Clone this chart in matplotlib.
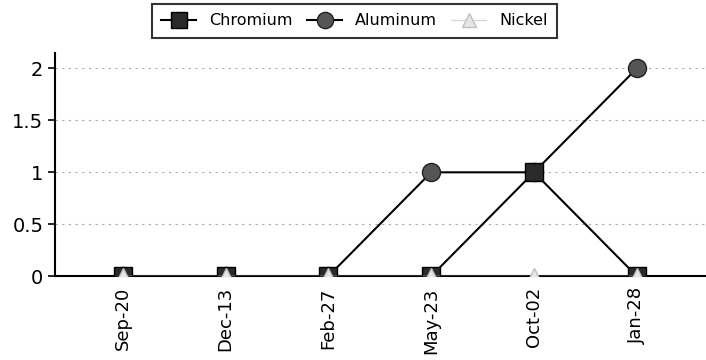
import matplotlib.pyplot as plt
import numpy as np

dates = ["Sep-20", "Dec-13", "Feb-27", "May-23", "Oct-02", "Jan-28"]
chromium = [0, 0, 0, 0, 1, 0]
aluminum = [0, 0, 0, 1, 1, 2]
nickel = [0, 0, 0, 0, 0, 0]

fig = plt.figure(figsize=(7.06, 3.6), dpi=100)
ax = fig.add_axes([0.078, 0.233, 0.92, 0.62])

x = np.arange(len(dates))
l1, = ax.plot(x, chromium, color="black", lw=1.5, marker="s", ms=13,
              mfc="#2a2a2a", mec="black", label="Chromium", zorder=4)
l2, = ax.plot(x, aluminum, color="black", lw=1.5, marker="o", ms=13,
              mfc="#555555", mec="#222222", label="Aluminum", zorder=3)
l3, = ax.plot(x, nickel, color="#d8d8d8", lw=1.0, marker="^", ms=11,
              mfc="#e6e6e6", mec="#c0c0c0", label="Nickel", zorder=5)

ax.set_xlim(-0.66, 5.66)
ax.set_ylim(0, 2.15)
ax.set_yticks([0, 0.5, 1, 1.5, 2])
ax.set_yticklabels(["0", "0.5", "1", "1.5", "2"], fontsize=14)
ax.set_xticks(x)
ax.set_xticklabels(dates, rotation=90, fontsize=13)
ax.grid(axis="y", color="#aaaaaa", linestyle=(0, (2, 4)), lw=0.8)
ax.set_axisbelow(True)
for s in ["top", "right"]:
    ax.spines[s].set_visible(False)
ax.spines["left"].set_linewidth(1.5)
ax.spines["bottom"].set_linewidth(1.5)
ax.tick_params(axis="x", length=0, pad=8)
ax.tick_params(axis="y", length=5, width=1.2)

leg = fig.legend(handles=[l1, l2, l3], loc="upper center", ncol=3,
                 bbox_to_anchor=(0.502, 1.012), fontsize=11.5, frameon=True,
                 fancybox=False, edgecolor="black", markerscale=0.9,
                 handlelength=2.2, columnspacing=0.9, borderpad=0.6)
leg.get_frame().set_linewidth(1.5)

fig.savefig("out.png", dpi=100)
